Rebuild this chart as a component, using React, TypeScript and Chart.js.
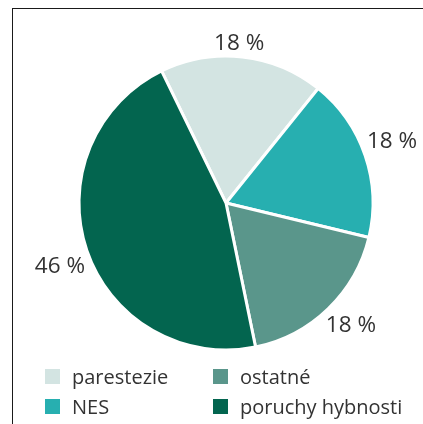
import React, { useEffect, useRef } from "react";
import { Chart, registerables } from "chart.js";

Chart.register(...registerables);

const categories = ["parestezie", "NES", "ostatné", "poruchy hybnosti"];
const values = [18, 18, 18, 46];
const colors = ["#d3e4e2", "#27afb0", "#5a968b", "#03654f"];
const legendOrder = [0, 1, 2, 3];

const FONT = "'Open Sans', 'Noto Sans', sans-serif";

const outsideLabels = {
  id: "outsideLabels",
  afterDatasetsDraw(chart: any) {
    const ctx = chart.ctx;
    const meta = chart.getDatasetMeta(0);
    const data = chart.data.datasets[0].data as number[];
    ctx.save();
    ctx.font = `22.5px ${FONT}`;
    ctx.fillStyle = "#333333";
    ctx.textAlign = "center";
    ctx.textBaseline = "middle";
    meta.data.forEach((arc: any, i: number) => {
      const { x, y, startAngle, endAngle, outerRadius } = arc.getProps(
        ["x", "y", "startAngle", "endAngle", "outerRadius"],
        true
      );
      const mid = (startAngle + endAngle) / 2 - 0.03;
      const text = `${data[i]} %`;
      const w = ctx.measureText(text).width;
      const h = 16;
      const pad = 4;
      const dist =
        outerRadius + pad + Math.abs(Math.cos(mid)) * (w / 2) + Math.abs(Math.sin(mid)) * (h / 2);
      ctx.fillText(text, x + Math.cos(mid) * dist, y + Math.sin(mid) * dist + 1);
    });
    ctx.restore();
  },
};

export default function App() {
  const ref = useRef<HTMLCanvasElement | null>(null);

  useEffect(() => {
    if (!ref.current) return;
    const chart = new Chart(ref.current, {
      type: "pie",
      data: {
        labels: categories,
        datasets: [
          {
            data: values,
            backgroundColor: colors,
            borderColor: "#ffffff",
            borderWidth: 3,
          },
        ],
      },
      options: {
        responsive: false,
        animation: false,
        rotation: -26,
        radius: 147,
        layout: { padding: { left: 40, right: 11, top: 40, bottom: 58 } },
        plugins: {
          legend: { display: false },
          tooltip: { enabled: false },
        },
      },
      plugins: [outsideLabels],
    });
    return () => chart.destroy();
  }, []);

  return (
    <div
      style={{
        position: "fixed",
        left: 0,
        top: 0,
        width: 423,
        height: 424,
        background: "#ffffff",
        overflow: "hidden",
      }}
    >
      <div
        style={{
          position: "absolute",
          left: 12,
          top: 8,
          right: -5,
          bottom: -5,
          borderLeft: "1.5px solid #1a1a1a",
          borderTop: "1.5px solid #1a1a1a",
        }}
      />
      <canvas
        ref={ref}
        width={423}
        height={424}
        style={{ position: "absolute", left: 0, top: 0, width: 423, height: 424 }}
      />
      <div
        style={{
          position: "absolute",
          left: 45,
          top: 361,
          display: "grid",
          gridTemplateRows: "30px 30px",
          gridTemplateColumns: "168px 200px",
          gridAutoFlow: "column",
          fontFamily: FONT,
          fontSize: 20,
          color: "#333333",
        }}
      >
        {legendOrder.map((i) => (
          <div key={categories[i]} style={{ display: "flex", alignItems: "center", whiteSpace: "nowrap" }}>
            <span
              style={{
                display: "inline-block",
                width: 15,
                height: 15,
                background: colors[i],
                marginRight: 12,
              }}
            />
            <span>{categories[i]}</span>
          </div>
        ))}
      </div>
    </div>
  );
}
